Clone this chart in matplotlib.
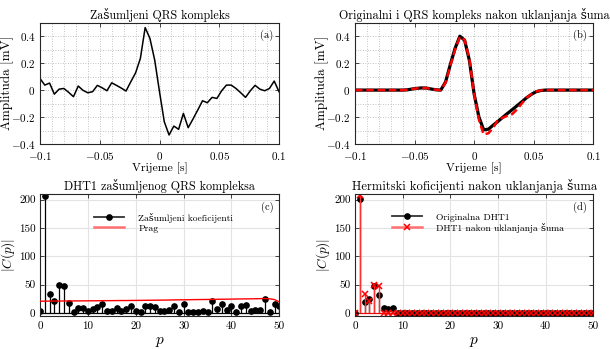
import numpy as np
import matplotlib
matplotlib.use("Agg")
import matplotlib.pyplot as plt
from matplotlib.legend_handler import HandlerLine2D
from matplotlib.lines import Line2D

plt.rcParams['font.family'] = ['cmr10', 'DejaVu Serif']
plt.rcParams['mathtext.fontset'] = 'cm'
plt.rcParams['axes.unicode_minus'] = False

# ---------------- data ----------------
t = np.linspace(-0.1, 0.1, 51)
noisy = [0.086, 0.037, 0.052, -0.030, 0.007, 0.012, -0.017, -0.049, 0.030, -0.002,
         -0.020, -0.012, 0.035, 0.017, -0.005, 0.054, 0.035, 0.015, -0.007, 0.062,
         0.128, 0.235, 0.464, 0.383, 0.222, -0.012, -0.235, -0.333, -0.267, -0.291,
         -0.173, -0.279, -0.215, -0.148, -0.079, -0.094, -0.054, -0.062, -0.005, 0.037,
         0.037, 0.012, -0.020, -0.054, -0.005, 0.035, 0.007, -0.005, 0.012, 0.067,
         -0.012]
original = [0]*11 + [0.002, 0.008, 0.013, 0.016, 0.015, 0.008, 0.002, 0.0, 0.06, 0.19,
                     0.31, 0.40, 0.37, 0.22, -0.03, -0.20, -0.295, -0.29, -0.26, -0.232,
                     -0.202, -0.173, -0.145, -0.116, -0.087, -0.057, -0.032, -0.012, -0.003] + [0]*11
denoised = [0]*11 + [0.002, 0.008, 0.013, 0.016, 0.015, 0.008, 0.002, 0.0, 0.055, 0.18,
                     0.30, 0.395, 0.375, 0.23, -0.03, -0.22, -0.33, -0.32, -0.28, -0.22,
                     -0.205, -0.19, -0.178, -0.143, -0.099, -0.057, -0.03, -0.01, -0.002] + [0]*11

p = np.arange(51)
noisy_coef = [3, 207, 34, 21, 49, 47, 18, 2, 8, 8, 3, 6, 10, 15, 4, 4, 8, 4, 6, 13,
              4, 2, 13, 13, 10, 4, 4, 5, 13, 2, 15, 1, 2, 2, 4, 2, 21, 6, 15, 5,
              12, 2, 12, 14, 4, 5, 5, 25, 2, 16, 12]
threshold = [20.6, 20.7, 20.8, 20.8, 20.9, 21.0, 21.0, 21.1, 21.2, 21.2,
             21.3, 21.4, 21.4, 21.5, 21.6, 21.6, 21.7, 21.8, 21.8, 21.9,
             22.0, 22.1, 22.2, 22.3, 22.4, 22.5, 22.6, 22.7, 22.9, 23.0,
             23.1, 23.2, 23.4, 23.5, 23.6, 23.7, 23.8, 24.0, 24.1, 24.2,
             24.3, 24.5, 24.6, 24.7, 24.8, 25.0, 25.1, 25.3, 24.8, 23.5, 19.4]
orig_coef = [0, 201, 20, 24, 48, 32, 9, 6, 9] + [0]*42
den_coef = [0, 208, 34, 21, 49, 47] + [0]*45

xt_ab = [-0.1, -0.05, 0, 0.05, 0.1]
xt_ab_lbl = ['$-0.1$', '$-0.05$', '$0$', '$0.05$', '$0.1$']
yt_ab = [-0.4, -0.2, 0, 0.2, 0.4]
yt_ab_lbl = ['$-0.4$', '$-0.2$', '$0$', '$0.2$', '$0.4$']
xt_cd = [0, 10, 20, 30, 40, 50]
yt_cd = [0, 50, 100, 150, 200]

titles = ['Zašumljeni QRS kompleks', 'Originalni i QRS kompleks nakon uklanjanja šuma',
          'DHT1 zašumljenog QRS kompleksa', 'Hermitski koficijenti nakon uklanjanja šuma']
title_w = [140, 272, 192, 245]   # target widths in px

# ---------------- figure ----------------
W, H = 610, 349
fig = plt.figure(figsize=(W/100, H/100), dpi=100)

def rect(l, r, top, bot):
    return [l/W, 1 - bot/H, (r-l)/W, (bot-top)/H]

axA = fig.add_axes(rect(40, 279, 22.7, 144))
axB = fig.add_axes(rect(355, 593.3, 22.7, 144))
axC = fig.add_axes(rect(40, 279.3, 194, 315.7))
axD = fig.add_axes(rect(355, 593.3, 194, 315.7))
axes = [axA, axB, axC, axD]

spine_col = '#262626'
tick_fs = 8.0

def style(ax):
    for s in ax.spines.values():
        s.set_color(spine_col)
        s.set_linewidth(0.8)
    ax.tick_params(which='both', direction='in', top=True, right=True,
                   colors=spine_col, labelcolor='black', labelsize=tick_fs, length=3, width=0.6)
    ax.tick_params(axis='x', pad=4.5)
    ax.tick_params(axis='y', pad=3.2)
    ax.set_axisbelow(True)

panel_lbls = []
for ax, lab in ((axA, '(a)'), (axB, '(b)')):
    style(ax)
    ax.set_xlim(-0.1, 0.1)
    ax.set_ylim(-0.4, 0.5)
    ax.set_xticks(xt_ab)
    ax.set_xticklabels(xt_ab_lbl)
    ax.set_yticks(yt_ab)
    ax.set_yticklabels(yt_ab_lbl)
    ax.set_xticks(np.arange(-0.1, 0.1001, 0.01), minor=True)
    ax.set_yticks(np.arange(-0.4, 0.501, 0.1), minor=True)
    ax.tick_params(which='minor', length=0)
    ax.grid(which='both', color='#b0b0b0', linestyle=(0, (1, 2)), linewidth=0.6)
    ax.set_xlabel('Vrijeme [s]', fontsize=9)
    ax.xaxis.set_label_coords(0.5, -0.15)
    ax.set_ylabel('Amplituda [mV]', fontsize=9)
    ax.yaxis.set_label_coords(-0.11, 0.5)
    panel_lbls.append(ax.text(0.975, 0.945, lab, transform=ax.transAxes, ha='right', va='top', fontsize=7.5))

axA.plot(t, noisy, color='black', lw=1.1)
axB.plot(t, original, color='black', lw=2.3, solid_capstyle='round')
axB.plot(t, denoised, color='red', lw=1.8, dashes=(3, 1.5))


class EndMarkerHandler(HandlerLine2D):
    def get_xdata(self, legend, xdescent, ydescent, width, height, fontsize):
        xdata = np.array([-xdescent, -xdescent + width])
        return xdata, np.array([-xdescent + width])


for ax, lab in ((axC, '(c)'), (axD, '(d)')):
    style(ax)
    ax.set_xlim(0, 50)
    ax.set_ylim(-5, 210)
    ax.set_xticks(xt_cd)
    ax.set_yticks(yt_cd)
    ax.grid(which='major', color='#e3e3e3', linestyle='-', linewidth=0.8)
    ax.set_xlabel('$p$', fontsize=11)
    ax.xaxis.label.set_va('center')
    ax.xaxis.set_label_coords(0.5, -0.215)
    ax.set_ylabel('$|C(p)|$', fontsize=9.5)
    ax.yaxis.set_label_coords(-0.097, 0.5)
    panel_lbls.append(ax.text(0.975, 0.935, lab, transform=ax.transAxes, ha='right', va='top', fontsize=7.5))

# panel c
mk, st, bl = axC.stem(p, noisy_coef, basefmt=' ')
plt.setp(st, color='black', linewidth=0.9)
plt.setp(mk, color='black', markersize=3.8, markerfacecolor='black')
axC.axhline(0, color='black', lw=0.9, zorder=2)
axC.plot(p, threshold, color='red', lw=1.0, zorder=3)
h1 = Line2D([], [], color='#333333', lw=1.3, marker='o', markersize=3.8, markeredgecolor='black', markerfacecolor='black')
h2 = Line2D([], [], color='#ff7070', lw=1.8)
legC = axC.legend([h1, h2], ['Zašumljeni koeficijenti', 'Prag'], loc='upper left',
                  bbox_to_anchor=(0.205, 0.885), frameon=False, fontsize=7.1, handlelength=3.0,
                  handletextpad=1.5, labelspacing=0.1, borderpad=0,
                  handler_map={Line2D: EndMarkerHandler()})

# panel d
mk, st, bl = axD.stem(p, orig_coef, basefmt=' ')
plt.setp(st, color='black', linewidth=0.9)
plt.setp(mk, color='black', markersize=3.8, markerfacecolor='black')
mk2, st2, bl2 = axD.stem(p, den_coef, basefmt=' ')
plt.setp(st2, color='#ff3030', linewidth=1.0)
plt.setp(mk2, color='red', marker='x', markersize=4.5, markeredgewidth=1.1)
axD.axhline(0, color='red', lw=0.9, zorder=1.5)
h3 = Line2D([], [], color='#333333', lw=1.3, marker='o', markersize=3.8, markeredgecolor='black', markerfacecolor='black')
h4 = Line2D([], [], color='#ff7070', lw=1.8, marker='x', markersize=4.5, markeredgecolor='red', markeredgewidth=1.1)
legD = axD.legend([h3, h4], ['Originalna DHT1', 'DHT1 nakon uklanjanja šuma'], loc='upper left',
                  bbox_to_anchor=(0.135, 0.885), frameon=False, fontsize=7.1, handlelength=3.0,
                  handletextpad=1.5, labelspacing=0.1, borderpad=0,
                  handler_map={Line2D: EndMarkerHandler()})

title_objs = [ax.set_title(ttl, fontsize=9, pad=3) for ax, ttl in zip(axes, titles)]

# ---- fit text sizes to widths measured on the reference ----
fig.canvas.draw()
renderer = fig.canvas.get_renderer()

def fitsize(txt, target, vertical=False):
    bb = txt.get_window_extent(renderer)
    w = bb.height if vertical else bb.width
    return txt.get_fontsize() * target / w

for tt, tw in zip(title_objs, title_w):
    tt.set_fontsize(fitsize(tt, tw))

for ax in (axA, axB):
    ax.xaxis.label.set_fontsize(fitsize(ax.xaxis.label, 56))
    ax.yaxis.label.set_fontsize(fitsize(ax.yaxis.label, 95, vertical=True))

fsC = fitsize(legC.get_texts()[0], 97)
for tx in legC.get_texts():
    tx.set_fontsize(fsC)
fsD = fitsize(legD.get_texts()[0], 75)
for tx in legD.get_texts():
    tx.set_fontsize(fsD)

fig.savefig('out.png', dpi=100)
